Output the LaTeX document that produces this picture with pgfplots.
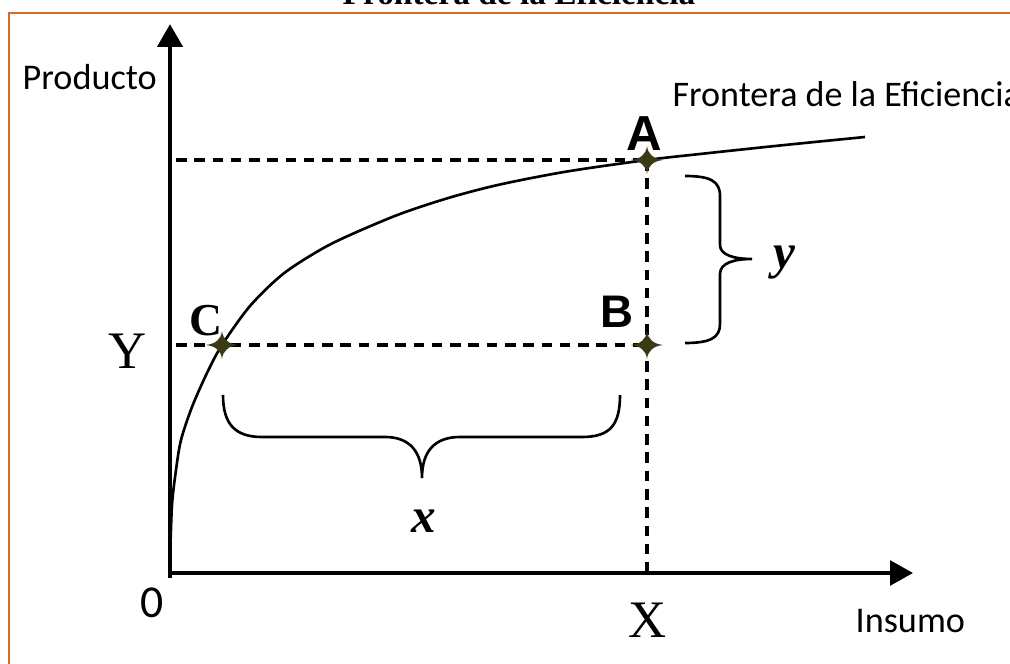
\documentclass[border=0pt]{standalone}
\usepackage{pgfplots}
\pgfplotsset{compat=1.18}
\usepackage{fontspec}
\setmainfont{Liberation Serif}
\newfontfamily\calibri{Carlito}
\newfontfamily\arial{Liberation Sans}
\usetikzlibrary{arrows.meta}
\definecolor{frame}{RGB}{210,110,40}
\definecolor{starc}{RGB}{58,58,20}
\pgfdeclareplotmark{star4}{%
  \pgfpathmoveto{\pgfpoint{0pt}{0.9\pgfplotmarksize}}%
  \pgfpathquadraticcurveto{\pgfpoint{0.1\pgfplotmarksize}{0.1\pgfplotmarksize}}{\pgfpoint{1.05\pgfplotmarksize}{0pt}}%
  \pgfpathquadraticcurveto{\pgfpoint{0.1\pgfplotmarksize}{-0.1\pgfplotmarksize}}{\pgfpoint{0pt}{-0.9\pgfplotmarksize}}%
  \pgfpathquadraticcurveto{\pgfpoint{-0.1\pgfplotmarksize}{-0.1\pgfplotmarksize}}{\pgfpoint{-1.05\pgfplotmarksize}{0pt}}%
  \pgfpathquadraticcurveto{\pgfpoint{-0.1\pgfplotmarksize}{0.1\pgfplotmarksize}}{\pgfpoint{0pt}{0.9\pgfplotmarksize}}%
  \pgfpathclose\pgfusepathqfill}
\begin{document}
\begin{tikzpicture}
\begin{axis}[
  width=10.1cm, height=6.64cm, scale only axis,
  xmin=0, xmax=1010, ymin=0, ymax=664, y dir=reverse,
  hide axis, clip=false]
\coordinate (TL) at (axis cs:0,0);
\coordinate (BR) at (axis cs:1010,664);
% frame
\draw[frame, line width=0.7pt] (axis cs:9,700) -- (axis cs:9,13) -- (axis cs:1100,13);
% title
\node[anchor=base] at (axis cs:519,5) {\bfseries\fontsize{9.5}{10}\selectfont Frontera de la Eficiencia};
% dashed guides
\addplot[black, line width=1pt, dash pattern=on 3pt off 2.2pt] coordinates {(176,160) (647,160)};
\addplot[black, line width=1pt, dash pattern=on 3pt off 2.2pt] coordinates {(176,345) (647,345)};
\addplot[black, line width=1pt, dash pattern=on 3pt off 2.2pt] coordinates {(647,160) (647,573)};
% axes
\draw[line width=1.4pt, -{Triangle[length=6.5pt,width=7pt]}] (axis cs:170,578) -- (axis cs:170,24);
\draw[line width=1pt, -{Triangle[length=6.5pt,width=7pt]}] (axis cs:168,573) -- (axis cs:913,573);
% frontier curve
\addplot[black, line width=0.75pt, smooth, tension=0.5] coordinates {
 (170,560) (172,505) (176,470) (181,440) (192,407) (207,373) (222,345)
 (250,306) (283,274) (320,250) (350,235) (400,214) (450,197.5) (500,184.5)
 (567,171.5) (647,160) (700,154) (780,145.5) (865,137)};
% points
\addplot[only marks, mark=star4, mark size=4.4pt, color=starc] coordinates {(647,160) (647,345) (222,345)};
% braces
\draw[black, line width=0.75pt] (axis cs:685,176) .. controls (axis cs:710,176) and (axis cs:720,181) .. (axis cs:720,196) -- (axis cs:720,245)
  .. controls (axis cs:720,255) and (axis cs:734,259) .. (axis cs:752,259)
  .. controls (axis cs:734,259) and (axis cs:720,263) .. (axis cs:720,274) -- (axis cs:720,324)
  .. controls (axis cs:720,338) and (axis cs:710,343) .. (axis cs:685,343);
\draw[black, line width=0.75pt] (axis cs:223,395) .. controls (axis cs:223,425) and (axis cs:236,437) .. (axis cs:262,437) -- (axis cs:385,437)
  .. controls (axis cs:410,437) and (axis cs:422,452) .. (axis cs:422,478)
  .. controls (axis cs:422,452) and (axis cs:434,437) .. (axis cs:460,437) -- (axis cs:582,437)
  .. controls (axis cs:610,437) and (axis cs:620,425) .. (axis cs:620,395);
% labels
\node[anchor=base west, inner sep=0pt] at (axis cs:22,90) {\calibri\fontsize{10.3}{12}\selectfont Producto};
\node[anchor=base west, inner sep=0pt] at (axis cs:672,107) {\calibri\fontsize{10.25}{12}\selectfont Frontera de la Eficiencia};
\node[anchor=base, inner sep=0pt] at (axis cs:644,151) {\arial\bfseries\fontsize{14}{16}\selectfont A};
\node[anchor=base, inner sep=0pt] at (axis cs:617,328) {\arial\bfseries\fontsize{13}{15}\selectfont B};
\node[anchor=base, inner sep=0pt] at (axis cs:206,336) {\bfseries\fontsize{13}{15}\selectfont C};
\node[anchor=base, inner sep=0pt] at (axis cs:128,369) {\fontsize{15}{17}\selectfont Y};
\node[anchor=base, inner sep=0pt] at (axis cs:648,637) {\fontsize{15}{17}\selectfont X};
\node[anchor=base, inner sep=0pt] at (axis cs:152,617) {\calibri\fontsize{13}{15}\selectfont 0};
\node[anchor=base west, inner sep=0pt] at (axis cs:855,632) {\calibri\fontsize{10.3}{12}\selectfont Insumo};
\node[anchor=base, inner sep=0pt] at (axis cs:424,533) {\bfseries\itshape\fontsize{14}{16}\selectfont x};
\node[anchor=base, inner sep=0pt] at (axis cs:784,269) {\bfseries\itshape\fontsize{14}{16}\selectfont y};
\end{axis}
\pgfresetboundingbox
\path (TL) rectangle (BR);
\end{tikzpicture}
\end{document}
